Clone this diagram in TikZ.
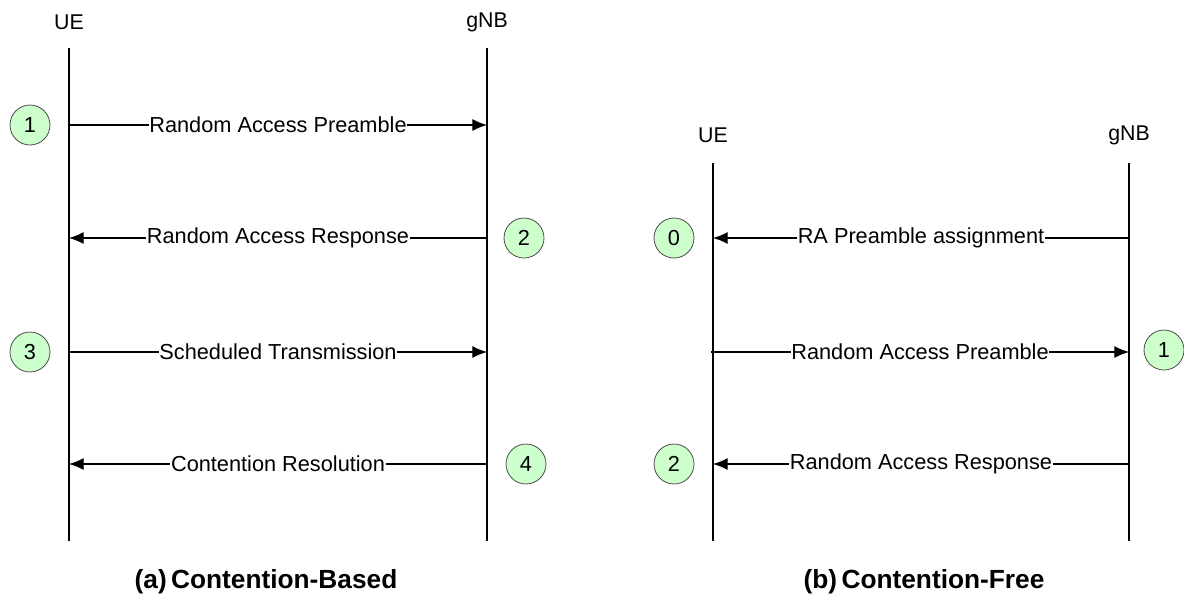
\documentclass[tikz,border=0pt]{standalone}
\usepackage{fontspec}
\setmainfont{Liberation Sans}
\usetikzlibrary{arrows.meta}

\tikzset{
  lifeline/.style={line width=1.5pt},
  msg/.style={line width=0.9pt,-{Latex[length=11pt,width=9pt]}},
  msglbl/.style={fill=white,inner xsep=0.5pt,inner ysep=2pt,font=\fontsize{16.3}{19}\selectfont},
  actor/.style={font=\fontsize{16}{19}\selectfont},
  stepnum/.style={circle,draw=black!70,line width=0.6pt,fill=green!20,minimum size=30pt,inner sep=0pt,font=\fontsize{16.3}{19}\selectfont},
  caption/.style={font=\bfseries\fontsize{19.7}{23}\selectfont}
}

\begin{document}
\begin{tikzpicture}[x=0.75pt,y=-0.75pt]
            \useasboundingbox (0,0) rectangle (1184,601);
            % (a) contention-based
            \node[actor] (ueA) at (69,22) {UE};
            \node[actor] (gnbA) at (487,22) {gNB};
            \coordinate (ueAtop) at (69,48);
            \coordinate (ueAbot) at (69,541);
            \coordinate (gnbAtop) at (487,48);
            \coordinate (gnbAbot) at (487,541);
            \draw[lifeline] (ueAtop) -- (ueAbot) (gnbAtop) -- (gnbAbot);
            \coordinate (ueA1) at (69,125);   \coordinate (gnbA1) at (487,125);
            \coordinate (ueA2) at (69,238);   \coordinate (gnbA2) at (487,238);
            \coordinate (ueA3) at (69,352);   \coordinate (gnbA3) at (487,352);
            \coordinate (ueA4) at (69,464);   \coordinate (gnbA4) at (487,464);
            \draw[msg] (ueA1) -- (gnbA1) node[midway,msglbl] (preA) {Random Access Preamble};
            \draw[msg] (gnbA2) -- (ueA2) node[midway,msglbl] (rarA) {Random Access Response};
            \draw[msg] (ueA3) -- (gnbA3) node[midway,msglbl] (schA) {Scheduled Transmission};
            \draw[msg] (gnbA4) -- (ueA4) node[midway,msglbl] (crA) {Contention Resolution};
            \node[stepnum] (sA1) at (30,125) {1};
            \node[stepnum] (sA2) at (524,238) {2};
            \node[stepnum] (sA3) at (30,352) {3};
            \node[stepnum] (sA4) at (526,464) {4};
            \node[caption] (capA) at (266,582) {(a)\,Contention-Based};
            % (b) contention-free
            \node[actor] (ueB) at (713,135) {UE};
            \node[actor] (gnbB) at (1129,135) {gNB};
            \coordinate (ueBtop) at (713,163);
            \coordinate (ueBbot) at (713,541);
            \coordinate (gnbBtop) at (1129,163);
            \coordinate (gnbBbot) at (1129,541);
            \draw[lifeline] (ueBtop) -- (ueBbot) (gnbBtop) -- (gnbBbot);
            \coordinate (ueB0) at (713,238);  \coordinate (gnbB0) at (1129,238);
            \coordinate (ueB1) at (711,352);  \coordinate (gnbB1) at (1129,352);
            \coordinate (ueB2) at (713,464);  \coordinate (gnbB2) at (1129,464);
            \draw[msg] (gnbB0) -- (ueB0) node[midway,msglbl] (assB) {RA Preamble assignment};
            \draw[msg] (ueB1) -- (gnbB1) node[midway,msglbl] (preB) {Random Access Preamble};
            \draw[msg] (gnbB2) -- (ueB2) node[midway,msglbl] (rarB) {Random Access Response};
            \node[stepnum] (sB0) at (674,238) {0};
            \node[stepnum] (sB1) at (1164,350) {1};
            \node[stepnum] (sB2) at (674,464) {2};
            \node[caption] (capB) at (924,582) {(b)\,Contention-Free};
        \end{tikzpicture}
\end{document}
